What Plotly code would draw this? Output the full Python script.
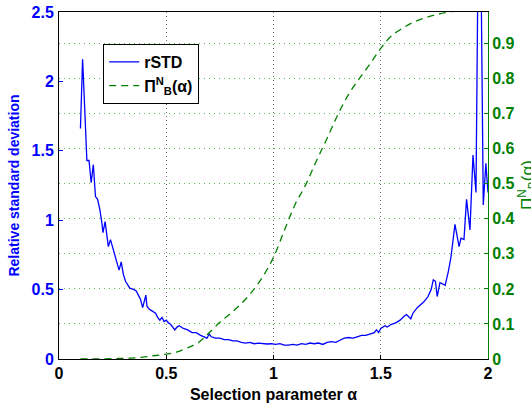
import plotly.graph_objects as go

# rSTD curve (left axis)
alpha_rstd = [0.10, 0.11, 0.12, 0.13, 0.14, 0.15, 0.16, 0.17, 0.18, 0.19, 0.20, 0.205, 0.215, 0.225, 0.23,
              0.24, 0.25, 0.26, 0.27, 0.28, 0.29, 0.30, 0.31, 0.32, 0.33, 0.35, 0.36, 0.37, 0.38, 0.39,
              0.40, 0.405, 0.41, 0.42, 0.43, 0.44, 0.45, 0.46, 0.47, 0.48, 0.49, 0.50, 0.51, 0.52, 0.53,
              0.54, 0.55, 0.56, 0.58, 0.60, 0.62, 0.64, 0.66, 0.68, 0.69, 0.70, 0.71, 0.73, 0.75, 0.77,
              0.79, 0.81, 0.83, 0.85, 0.87, 0.89, 0.91, 0.93, 0.95, 0.97, 0.99, 1.01, 1.03, 1.05, 1.07,
              1.09, 1.11, 1.13, 1.15, 1.17, 1.19, 1.21, 1.23, 1.25, 1.27, 1.29, 1.31, 1.33, 1.35, 1.37,
              1.39, 1.41, 1.43, 1.45, 1.47, 1.48, 1.49, 1.50, 1.52, 1.53, 1.55, 1.57, 1.59, 1.61, 1.62,
              1.64, 1.65, 1.67, 1.69, 1.70, 1.72, 1.735, 1.745, 1.755, 1.763, 1.776, 1.79, 1.80, 1.815,
              1.827, 1.846, 1.865, 1.874, 1.888, 1.90, 1.916, 1.93, 1.944, 1.96, 1.978, 1.99, 2.00]
rstd = [1.66, 2.16, 1.80, 1.43, 1.43, 1.27, 1.40, 1.17, 1.15, 1.08, 0.98, 0.91, 0.99, 0.85, 0.81,
        0.86, 0.80, 0.74, 0.68, 0.64, 0.70, 0.61, 0.56, 0.53, 0.51, 0.50, 0.49, 0.46, 0.43, 0.37,
        0.42, 0.46, 0.38, 0.36, 0.35, 0.34, 0.33, 0.30, 0.28, 0.30, 0.27, 0.28, 0.26, 0.25, 0.23,
        0.21, 0.23, 0.24, 0.22, 0.21, 0.19, 0.19, 0.17, 0.16, 0.15, 0.18, 0.16, 0.15, 0.15, 0.14,
        0.14, 0.13, 0.13, 0.12, 0.115, 0.12, 0.11, 0.115, 0.11, 0.108, 0.11, 0.105, 0.11, 0.10, 0.10,
        0.105, 0.10, 0.11, 0.105, 0.115, 0.11, 0.115, 0.105, 0.12, 0.125, 0.12, 0.135, 0.15, 0.155, 0.15,
        0.16, 0.17, 0.17, 0.18, 0.19, 0.21, 0.19, 0.22, 0.24, 0.23, 0.25, 0.26, 0.28, 0.31, 0.32,
        0.29, 0.33, 0.37, 0.40, 0.41, 0.45, 0.50, 0.57, 0.56, 0.45, 0.55, 0.54, 0.53, 0.63,
        0.73, 0.97, 0.81, 0.87, 0.86, 1.15, 0.93, 1.47, 1.20, 4.0, 1.11, 1.41, 1.20]

# Pi_B^N(alpha) curve (right axis)
alpha_pi = [0.10, 0.15, 0.20, 0.25, 0.30, 0.35, 0.40, 0.45, 0.50, 0.55, 0.60, 0.65, 0.70, 0.75, 0.80,
            0.85, 0.90, 0.95, 1.00, 1.05, 1.10, 1.15, 1.20, 1.25, 1.30, 1.35, 1.40, 1.45, 1.50, 1.55,
            1.60, 1.65, 1.70, 1.75, 1.80, 1.85, 1.90, 1.95, 2.00]
pi_bn = [0.0, 0.0, 0.0, 0.001, 0.002, 0.003, 0.006, 0.010, 0.014, 0.020, 0.032, 0.047, 0.075, 0.105, 0.130,
         0.158, 0.192, 0.235, 0.290, 0.366, 0.440, 0.497, 0.565, 0.630, 0.697, 0.755, 0.800, 0.842, 0.886, 0.922,
         0.943, 0.960, 0.972, 0.981, 0.988, 0.993, 0.996, 0.998, 0.999]

BLUE = 'rgb(0,0,255)'
GREEN = 'rgb(0,128,0)'
FONT = 'Liberation Sans, Arial, sans-serif'

fig = go.Figure()

fig.add_trace(go.Scatter(x=alpha_rstd, y=rstd, mode='lines', name='<b>rSTD</b>',
                         line=dict(color=BLUE, width=1.3)))
fig.add_trace(go.Scatter(x=alpha_pi, y=pi_bn, mode='lines', name='<b>Π<sup>N</sup><sub>B</sub>(α)</b>',
                         line=dict(color=GREEN, width=1.3, dash='7px,5px', shape='spline'),
                         yaxis='y2'))

fig.update_layout(
    width=531, height=403,
    margin=dict(l=59, r=43, t=12, b=44),
    plot_bgcolor='white', paper_bgcolor='white',
    font=dict(family=FONT, size=16, color='black'),
    xaxis=dict(range=[0, 2], tickvals=[0, 0.5, 1, 1.5, 2], ticktext=['0', '0.5', '1', '1.5', '2'],
               showline=True, linecolor='black', linewidth=1, mirror=True,
               ticks='inside', ticklen=4, tickcolor='black', automargin=False,
               showgrid=True, gridcolor='rgb(110,110,110)', griddash='1px,3px', gridwidth=1,
               zeroline=False, tickfont=dict(size=16, weight='bold'),
               title=dict(text='<b>Selection parameter α</b>', font=dict(size=16), standoff=8)),
    yaxis=dict(range=[0, 2.5], tickvals=[0, 0.5, 1, 1.5, 2, 2.5], ticktext=['0', '0.5', '1', '1.5', '2', '2.5'],
               showline=True, linecolor='black', linewidth=1, automargin=False,
               ticks='inside', ticklen=4, tickcolor=BLUE, ticklabelstandoff=1, ticklabeloverflow='allow',
               showgrid=False, zeroline=False,
               tickfont=dict(size=16, color=BLUE, weight='bold'),
               title=dict(text='<b>Relative standard deviation</b>', font=dict(size=14, color=BLUE), standoff=8)),
    yaxis2=dict(range=[0, 0.99], tickvals=[0, 0.1, 0.2, 0.3, 0.4, 0.5, 0.6, 0.7, 0.8, 0.9],
                ticktext=['0', '0.1', '0.2', '0.3', '0.4', '0.5', '0.6', '0.7', '0.8', '0.9'],
                overlaying='y', side='right', automargin=False,
                showline=True, linecolor=GREEN, linewidth=1,
                ticks='inside', ticklen=4, tickcolor=GREEN,
                showgrid=True, gridcolor='rgba(0,170,0,0.7)', griddash='1px,4px', gridwidth=1,
                zeroline=False, tickfont=dict(size=16, color=GREEN, weight='bold')),
    legend=dict(x=0.103, y=0.908, xanchor='left', yanchor='top',
                bgcolor='white', bordercolor='black', borderwidth=1,
                font=dict(size=16, color='black')),
    showlegend=True,
)

# right axis title as an annotation, just past the tick labels (cut by the window edge as in the original)
fig.add_annotation(text='Π<sup>N</sup><sub>B</sub>(α)', xref='paper', yref='paper',
                   x=1, y=0.5, xanchor='left', yanchor='middle', xshift=25,
                   textangle=-90, showarrow=False, font=dict(size=17, color=GREEN))

# drop the default page margin so the figure fills the window
fig.write_html("out.html", config={'displayModeBar': False},
               post_script="document.body.style.margin='0';")
